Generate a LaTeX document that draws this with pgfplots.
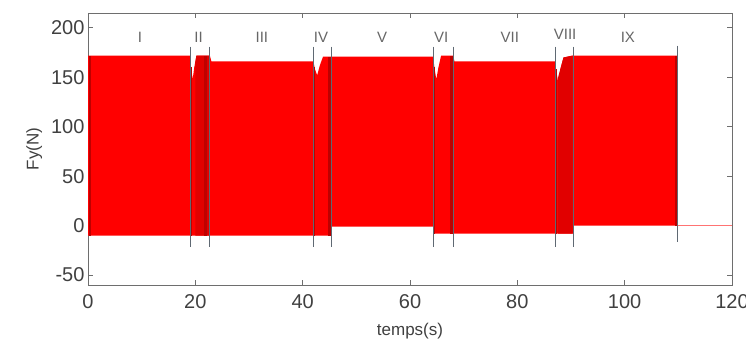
\documentclass[border=0pt]{standalone}
\usepackage{pgfplots}
\pgfplotsset{compat=1.18}
\usepackage{fontspec}
\setmainfont{Liberation Sans}
\definecolor{sigred}{RGB}{255,0,0}
\definecolor{darkred}{RGB}{190,0,0}
\definecolor{midred}{RGB}{225,0,0}
\definecolor{divgray}{RGB}{95,105,115}
\definecolor{axgray}{RGB}{110,110,110}
\begin{document}
\begin{tikzpicture}
\begin{axis}[name=ax, scale only axis, width=644pt, height=272pt,
  xmin=0, xmax=120, ymin=-60, ymax=215,
  xtick={0,20,...,120}, ytick={-50,0,...,200},
  tick align=inside, major tick length=5pt,
  axis line style={axgray, line width=0.8pt},
  tick style={axgray, line width=0.8pt},
  ticklabel style={font=\fontsize{20}{22}\selectfont, text=black!75},
  xticklabel style={yshift=-6pt},
  /pgf/number format/assume math mode=true,
  xlabel={temps(s)}, ylabel={Fy(N)},
  label style={font=\fontsize{17}{19}\selectfont, text=black!75},
  xlabel style={yshift=-8pt},
  ylabel style={yshift=2pt},
  clip=true]
% filled envelope of the fast oscillating force
\addplot[fill=sigred, draw=none] coordinates {
 (0,172) (19.0,172) (19.2,160) (19.5,148) (19.8,160) (20.2,172) (22.7,172) (23.0,166)
 (42.0,166) (42.3,158) (42.7,152) (43.2,162) (43.8,171) (45.4,171) (64.3,171)
 (64.6,158) (64.9,148) (65.3,160) (65.8,172) (68.0,172) (68.3,166) (87.0,166)
 (87.3,155) (87.6,145) (88.0,158) (88.6,170) (90.4,172) (109.8,172)
 (109.8,0) (90.4,0) (90.4,-8) (64.3,-8) (64.3,-1) (45.4,-1) (45.4,-10) (0,-10)} -- cycle;
% darker bands
\addplot[fill=midred, draw=none] coordinates {(87.6,-8) (87.6,150) (88.6,170) (90.3,172) (90.3,-8)} -- cycle;
\addplot[fill=midred, draw=none] coordinates {(20.0,-10) (20.0,165) (20.2,172) (22.6,172) (22.6,-10)} -- cycle;
\addplot[darkred, line width=2pt] coordinates {(0.3,-10) (0.3,172)};
\addplot[darkred, line width=2pt] coordinates {(19.25,-10) (19.25,160)};
\addplot[darkred, line width=2.4pt] coordinates {(21.9,-10) (21.9,172)};
\addplot[darkred, line width=2pt] coordinates {(42.2,-10) (42.2,160)};
\addplot[darkred, line width=2.4pt] coordinates {(45.0,-10) (45.0,171)};
\addplot[darkred, line width=2pt] coordinates {(64.5,-8) (64.5,160)};
\addplot[darkred, line width=2.4pt] coordinates {(67.7,-8) (67.7,172)};
\addplot[darkred, line width=2pt] coordinates {(87.2,-8) (87.2,158)};
\addplot[darkred, line width=2pt] coordinates {(109.5,0) (109.5,172)};
% force after the test
\addplot[red!55, line width=0.8pt] coordinates {(109.8,0) (120,0)};
% phase dividers
\addplot[divgray, line width=0.8pt] coordinates {(19.0,181) (19.0,-22)};
\addplot[divgray, line width=0.8pt] coordinates {(22.7,181) (22.7,-22)};
\addplot[divgray, line width=0.8pt] coordinates {(42.0,181) (42.0,-22)};
\addplot[divgray, line width=0.8pt] coordinates {(45.4,181) (45.4,-22)};
\addplot[divgray, line width=0.8pt] coordinates {(64.3,181) (64.3,-22)};
\addplot[divgray, line width=0.8pt] coordinates {(68.0,181) (68.0,-22)};
\addplot[divgray, line width=0.8pt] coordinates {(87.0,181) (87.0,-22)};
\addplot[divgray, line width=0.8pt] coordinates {(90.4,181) (90.4,-22)};
\addplot[divgray, line width=0.8pt] coordinates {(109.8,182) (109.8,-17)};
% phase labels
\begin{scope}[every node/.style={font=\fontsize{15}{17}\selectfont, text=black!60}]
\node at (axis cs:9.7,190) {I};
\node at (axis cs:20.6,190) {II};
\node at (axis cs:32.4,190) {III};
\node at (axis cs:43.4,190) {IV};
\node at (axis cs:54.8,190) {V};
\node at (axis cs:65.8,190) {VI};
\node at (axis cs:78.6,190) {VII};
\node at (axis cs:88.9,193) {VIII};
\node at (axis cs:100.6,190) {IX};
\end{scope}
\end{axis}
\pgfresetboundingbox
\path[use as bounding box] ([shift={(-88pt,-60pt)}]ax.south west) rectangle ([shift={(14pt,13pt)}]ax.north east);
\end{tikzpicture}
\end{document}
